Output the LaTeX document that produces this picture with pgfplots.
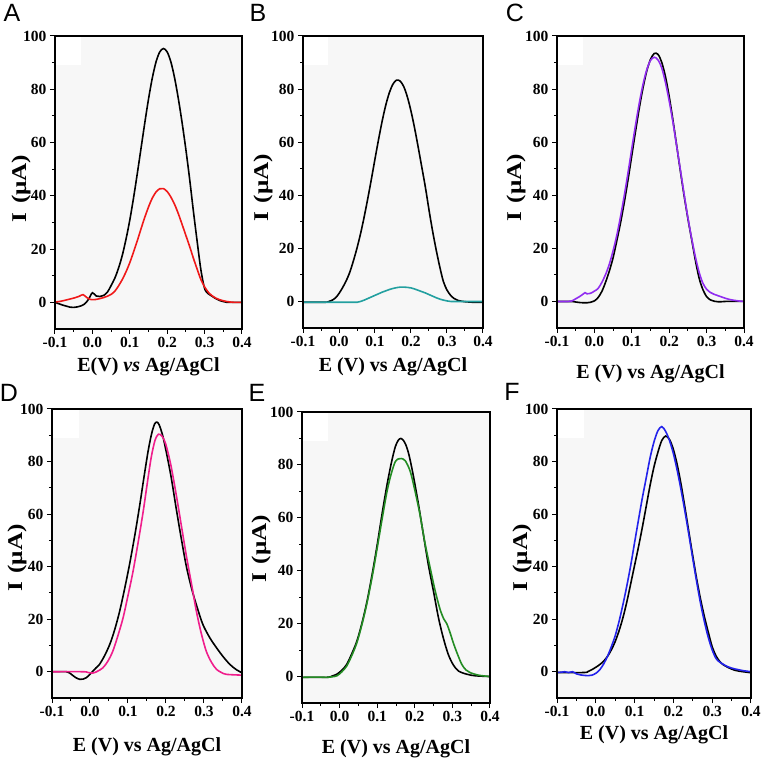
\documentclass[border=0pt]{standalone}
\usepackage{pgfplots}
\pgfplotsset{compat=1.18}
\usepackage{fontspec}
\setmainfont{Liberation Serif}
\newfontfamily\sansf{Liberation Sans}
\definecolor{cRed}{RGB}{240,25,25}
\definecolor{cTeal}{RGB}{35,160,160}
\definecolor{cPurple}{RGB}{145,45,240}
\definecolor{cPink}{RGB}{240,30,140}
\definecolor{cGreen}{RGB}{35,140,35}
\definecolor{cBlue}{RGB}{35,35,235}
\newcommand\tlfont{\fontsize{15.5}{16}\selectfont\bfseries}
\pgfplotsset{
 panel/.style={
  scale only axis, anchor=south west, axis on top,
  xmin=-0.1,xmax=0.4,ymin=-10,ymax=100,
  xtick={-0.1,0,0.1,0.2,0.3,0.4},
  ytick={0,20,40,60,80,100},
  /pgf/number format/assume math mode=true,
  xticklabel={\tlfont\pgfmathprintnumber[fixed,fixed zerofill,precision=1]{\tick}},
  yticklabel={\tlfont\pgfmathprintnumber[fixed,precision=0]{\tick}},
  minor x tick num=1, minor y tick num=1,
  tick align=outside, tick pos=left,
  major tick length=5pt, minor tick length=3pt,
  every tick/.style={black, line width=1pt},
  axis line style={line width=1.2pt},
  axis background/.style={fill=black!3},
  tick label style={font=\tlfont},
  xlabel style={font=\fontsize{20}{22}\selectfont\bfseries, anchor=center},
  ylabel style={font=\fontsize{21}{22}\selectfont\bfseries, anchor=center},
  xlabel={E (V) vs Ag/AgCl},
  ylabel={\scalebox{1.2}[1]{I\,\,(μA)}},
  every axis plot/.append style={line width=1.6pt, no markers, smooth, tension=0.5},
 },
}
\newcommand\whitecorner{\fill[white] (rel axis cs:0,0.9) rectangle (rel axis cs:0.14,1);}
\begin{document}
\begin{tikzpicture}
\path[use as bounding box] (0,0) rectangle (762pt,777pt);
% ---------------- A
\begin{axis}[panel, at={(55pt,448pt)}, width=187pt, height=293pt,
  xlabel={E(V) \textit{vs} Ag/AgCl},
  xlabel style={at={(axis description cs:0.5,-0.13)}},
  ylabel style={at={(axis description cs:-0.182,0.48)}}]
\whitecorner
\addplot[black] coordinates {(-0.1,0) (-0.09,-0.5) (-0.08,-1.0) (-0.07,-1.4) (-0.06,-1.8) (-0.05,-1.9) (-0.04,-1.7) (-0.03,-1.3) (-0.02,-0.5) (-0.01,1.2) (0.0,3.6) (0.01,2.4) (0.02,2.2) (0.03,2.6) (0.04,3.8) (0.05,6.3) (0.06,9.1) (0.07,12.9) (0.08,17.7) (0.09,23.8) (0.10,30.9) (0.11,39.2) (0.12,48.3) (0.13,57.8) (0.14,67.3) (0.15,76.3) (0.16,84.1) (0.17,90.2) (0.18,94.0) (0.19,95.3) (0.20,94.0) (0.21,90.2) (0.22,84.1) (0.23,76.3) (0.24,67.3) (0.25,57.3) (0.26,46.3) (0.27,34.3) (0.28,23.0) (0.29,12.3) (0.30,5.2) (0.31,3.2) (0.32,2.3) (0.33,1.4) (0.34,0.7) (0.35,0.3) (0.36,0) (0.38,0) (0.4,0)};
\addplot[cRed] coordinates {(-0.1,0.1) (-0.085,0.4) (-0.07,0.9) (-0.05,1.6) (-0.035,2.3) (-0.025,2.9) (-0.015,1.8) (-0.005,1.1) (0.0,1.0) (0.01,1.1) (0.02,1.4) (0.03,1.8) (0.04,2.3) (0.05,3.0) (0.06,4.2) (0.07,6.2) (0.08,8.6) (0.09,11.5) (0.10,14.9) (0.11,18.9) (0.12,23.1) (0.13,27.6) (0.14,31.9) (0.15,35.8) (0.16,39.1) (0.17,41.4) (0.18,42.65) (0.19,42.7) (0.20,41.6) (0.21,39.5) (0.22,36.7) (0.23,33.2) (0.24,29.2) (0.25,25.1) (0.26,21.0) (0.27,16.6) (0.28,12.5) (0.29,8.6) (0.30,5.8) (0.31,3.8) (0.32,2.5) (0.33,1.6) (0.34,1.0) (0.35,0.6) (0.36,0.3) (0.37,0.1) (0.38,0) (0.4,0)};
\end{axis}
% ---------------- B
\begin{axis}[panel, at={(303pt,449pt)}, width=180pt, height=292pt,
  xlabel style={at={(axis description cs:0.5,-0.134)}},
  ylabel style={at={(axis description cs:-0.222,0.48)}}]
\whitecorner
\addplot[black] coordinates {(-0.1,-0.3) (-0.04,-0.3) (-0.03,-0.1) (-0.02,0.4) (-0.01,1.3) (0.0,3.0) (0.01,5.2) (0.02,7.8) (0.03,11.0) (0.04,15.3) (0.05,20.1) (0.06,25.6) (0.07,31.9) (0.08,38.8) (0.09,46.1) (0.10,53.7) (0.11,61.1) (0.12,68.0) (0.13,74.0) (0.14,78.7) (0.15,81.9) (0.16,83.4) (0.17,83.0) (0.18,80.9) (0.19,77.0) (0.20,71.7) (0.21,65.3) (0.22,58.1) (0.23,50.6) (0.24,43.0) (0.25,34.5) (0.26,26.5) (0.27,19.4) (0.28,13.0) (0.29,7.5) (0.30,4.3) (0.31,2.3) (0.32,1.1) (0.33,0.4) (0.34,0.1) (0.35,-0.1) (0.36,-0.2) (0.37,-0.3) (0.4,-0.3)};
\addplot[cTeal] coordinates {(-0.1,-0.3) (0.04,-0.3) (0.05,-0.3) (0.06,0.0) (0.07,0.5) (0.08,1.1) (0.09,1.7) (0.10,2.3) (0.11,2.9) (0.12,3.5) (0.13,4.0) (0.14,4.5) (0.15,4.9) (0.16,5.2) (0.17,5.4) (0.18,5.4) (0.19,5.3) (0.20,5.1) (0.21,4.7) (0.22,4.2) (0.23,3.7) (0.24,3.2) (0.25,2.6) (0.26,2.0) (0.27,1.4) (0.28,0.9) (0.29,0.5) (0.30,0.2) (0.31,0.0) (0.33,0.0) (0.4,0.0)};
\end{axis}
% ---------------- C
\begin{axis}[panel, at={(557pt,449pt)}, width=187pt, height=292pt,
  xlabel style={at={(axis description cs:0.5,-0.158)}},
  ylabel style={at={(axis description cs:-0.219,0.48)}}]
\whitecorner
\addplot[black] coordinates {(-0.1,0) (-0.07,0) (-0.06,0) (-0.05,-0.2) (-0.04,-0.4) (-0.03,-0.5) (-0.02,-0.5) (-0.01,-0.3) (0.0,0.2) (0.01,1.5) (0.02,3.8) (0.03,7.3) (0.04,11.5) (0.05,16.5) (0.06,22.9) (0.07,29.7) (0.08,37.4) (0.09,45.9) (0.10,55.0) (0.11,64.1) (0.12,72.8) (0.13,80.5) (0.14,86.8) (0.15,91.2) (0.16,93.4) (0.17,93.1) (0.18,90.1) (0.19,84.7) (0.20,77.2) (0.21,68.3) (0.22,58.7) (0.23,49.0) (0.24,39.7) (0.25,31.2) (0.26,23.4) (0.27,15.5) (0.28,8.8) (0.29,4.5) (0.30,1.8) (0.31,0.6) (0.32,0.1) (0.33,-0.1) (0.34,-0.1) (0.35,0) (0.4,0)};
\addplot[cPurple] coordinates {(-0.1,0) (-0.07,0) (-0.06,0.2) (-0.05,1.0) (-0.04,1.8) (-0.03,2.8) (-0.025,3.3) (-0.02,2.9) (-0.01,3.1) (0.0,3.9) (0.01,4.9) (0.02,7.2) (0.03,10.2) (0.04,14.1) (0.05,19.1) (0.06,25.0) (0.07,32.1) (0.08,40.0) (0.09,48.6) (0.10,57.6) (0.11,66.5) (0.12,74.7) (0.13,81.8) (0.14,87.3) (0.15,90.8) (0.16,92.0) (0.17,91.0) (0.18,88.0) (0.19,82.5) (0.20,75.5) (0.21,67.5) (0.22,58.5) (0.23,49.5) (0.24,40.3) (0.25,31.5) (0.26,23.8) (0.27,16.8) (0.28,11.0) (0.29,6.9) (0.30,4.6) (0.31,3.4) (0.32,2.7) (0.33,2.2) (0.34,1.7) (0.35,1.2) (0.36,0.8) (0.37,0.5) (0.38,0.3) (0.39,0.1) (0.4,0)};
\end{axis}
% ---------------- D
\begin{axis}[panel, at={(52pt,79pt)}, width=190pt, height=289pt,
  xlabel style={at={(axis description cs:0.5,-0.17)}},
  ylabel style={at={(axis description cs:-0.184,0.484)}}]
\whitecorner
\addplot[black] coordinates {(-0.1,0) (-0.062,0) (-0.049,-1) (-0.038,-2.2) (-0.027,-2.9) (-0.018,-2.8) (-0.01,-2.3) (0.0,-1) (0.008,0.3) (0.016,1.5) (0.025,2.8) (0.038,6) (0.052,10.4) (0.065,16) (0.078,23) (0.091,31.5) (0.104,40.8) (0.118,52) (0.131,63.5) (0.142,74) (0.153,84) (0.162,90.5) (0.17,94.3) (0.176,95) (0.182,94) (0.192,89.5) (0.203,82) (0.214,73.7) (0.227,62) (0.24,50.9) (0.253,40.5) (0.267,31.9) (0.282,24.5) (0.297,18) (0.315,13) (0.333,9.1) (0.35,5.8) (0.368,2.8) (0.385,0.8) (0.4,-0.4)};
\addplot[cPink] coordinates {(-0.1,0) (-0.018,0) (-0.005,-0.3) (0.008,-0.5) (0.02,0.2) (0.034,1.5) (0.047,4) (0.06,7.8) (0.073,13.5) (0.087,20.5) (0.1,29) (0.113,38) (0.127,49.5) (0.14,61) (0.15,71) (0.161,81.5) (0.171,88) (0.18,90.4) (0.19,89.6) (0.2,86.3) (0.213,78.5) (0.227,67.3) (0.24,56) (0.253,44.6) (0.267,33.5) (0.28,23) (0.293,14.5) (0.306,7.8) (0.32,3.5) (0.333,0.9) (0.346,-0.3) (0.359,-1) (0.4,-1.3)};
\end{axis}
% ---------------- E
\begin{axis}[panel, at={(302pt,74pt)}, width=188pt, height=291pt,
  xlabel style={at={(axis description cs:0.5,-0.158)}},
  ylabel style={at={(axis description cs:-0.218,0.53)}}]
\whitecorner
\addplot[black] coordinates {(-0.1,-0.3) (-0.034,-0.3) (-0.02,0.2) (-0.007,0.9) (0.006,2.4) (0.019,4.6) (0.032,8.5) (0.046,13.4) (0.06,20.5) (0.073,28.5) (0.087,39) (0.1,49.8) (0.113,61.5) (0.126,72.4) (0.138,81) (0.148,86.8) (0.156,89.3) (0.163,90) (0.17,89.2) (0.177,87.3) (0.185,83.5) (0.196,76) (0.21,64.9) (0.223,53.5) (0.236,42.3) (0.25,32) (0.263,22.2) (0.276,14.5) (0.289,8.4) (0.302,4.5) (0.316,2.1) (0.338,0.9) (0.36,0.3) (0.4,0)};
\addplot[cGreen] coordinates {(-0.1,-0.3) (-0.06,-0.2) (-0.034,-0.3) (-0.02,-0.1) (-0.007,0.3) (0.006,1.8) (0.019,4) (0.032,7.8) (0.046,12.8) (0.06,20) (0.073,27.9) (0.087,38) (0.1,48.6) (0.113,59.5) (0.126,69.9) (0.137,76.5) (0.148,81.2) (0.157,82.3) (0.165,82.4) (0.175,81.5) (0.188,77.5) (0.2,70.5) (0.214,61.1) (0.227,50.5) (0.241,41) (0.254,32.5) (0.267,25.5) (0.277,21.8) (0.285,20) (0.294,16.5) (0.303,12.5) (0.314,8.3) (0.325,4.6) (0.336,2.5) (0.347,1.5) (0.37,0.5) (0.4,0)};
\end{axis}
% ---------------- F
\begin{axis}[panel, at={(557pt,79pt)}, width=194pt, height=289pt,
  xlabel style={at={(axis description cs:0.5,-0.128)}},
  ylabel style={at={(axis description cs:-0.18,0.484)}}]
\whitecorner
\addplot[black] coordinates {(-0.1,-0.3) (-0.03,-0.3) (-0.02,0.1) (-0.01,0.8) (0.0,1.7) (0.01,2.7) (0.02,4.0) (0.03,5.8) (0.04,8.3) (0.05,11.5) (0.06,15.6) (0.07,20.6) (0.08,26.6) (0.09,33.5) (0.10,40.5) (0.11,47.5) (0.12,55.0) (0.13,63.0) (0.14,71.0) (0.15,78.0) (0.16,83.5) (0.17,88.0) (0.18,89.7) (0.19,88.4) (0.20,84.6) (0.21,78.7) (0.22,71.1) (0.23,62.3) (0.24,53.1) (0.25,44.0) (0.26,35.3) (0.27,27.6) (0.28,20.9) (0.29,15.0) (0.30,9.5) (0.31,6.0) (0.32,3.8) (0.33,2.5) (0.34,1.7) (0.35,1.0) (0.36,0.5) (0.37,0.2) (0.38,0) (0.39,-0.2) (0.4,-0.4)};
\addplot[cBlue] coordinates {(-0.1,-0.3) (-0.09,-0.2) (-0.08,0) (-0.07,-0.3) (-0.06,0) (-0.05,-0.8) (-0.04,-1.2) (-0.03,-1.4) (-0.02,-1.5) (-0.01,-1.3) (0.0,-0.6) (0.01,0.7) (0.02,2.9) (0.03,5.8) (0.04,9.5) (0.05,13.7) (0.06,19.2) (0.07,25.6) (0.08,32.7) (0.09,40.5) (0.10,49.2) (0.11,57.8) (0.12,66.2) (0.13,73.8) (0.14,81.5) (0.15,87.5) (0.16,91.7) (0.17,93.3) (0.18,91.5) (0.19,88.0) (0.20,83.0) (0.21,76.5) (0.22,69.0) (0.23,60.8) (0.24,52.0) (0.25,43.0) (0.26,34.2) (0.27,26.0) (0.28,19.0) (0.29,13.0) (0.30,8.3) (0.31,5.0) (0.32,3.6) (0.33,2.7) (0.34,1.9) (0.35,1.4) (0.36,1.0) (0.37,0.7) (0.38,0.4) (0.39,0.2) (0.4,0)};
\end{axis}
% panel letters
\node[font=\sansf\fontsize{25}{25}\selectfont] at (12pt,764pt) {A};
\node[font=\sansf\fontsize{25}{25}\selectfont] at (258pt,764pt) {B};
\node[font=\sansf\fontsize{25}{25}\selectfont] at (515pt,764pt) {C};
\node[font=\sansf\fontsize{25}{25}\selectfont] at (9pt,384pt) {D};
\node[font=\sansf\fontsize{25}{25}\selectfont] at (257pt,384pt) {E};
\node[font=\sansf\fontsize{25}{25}\selectfont] at (512pt,385pt) {F};
\end{tikzpicture}
\end{document}
